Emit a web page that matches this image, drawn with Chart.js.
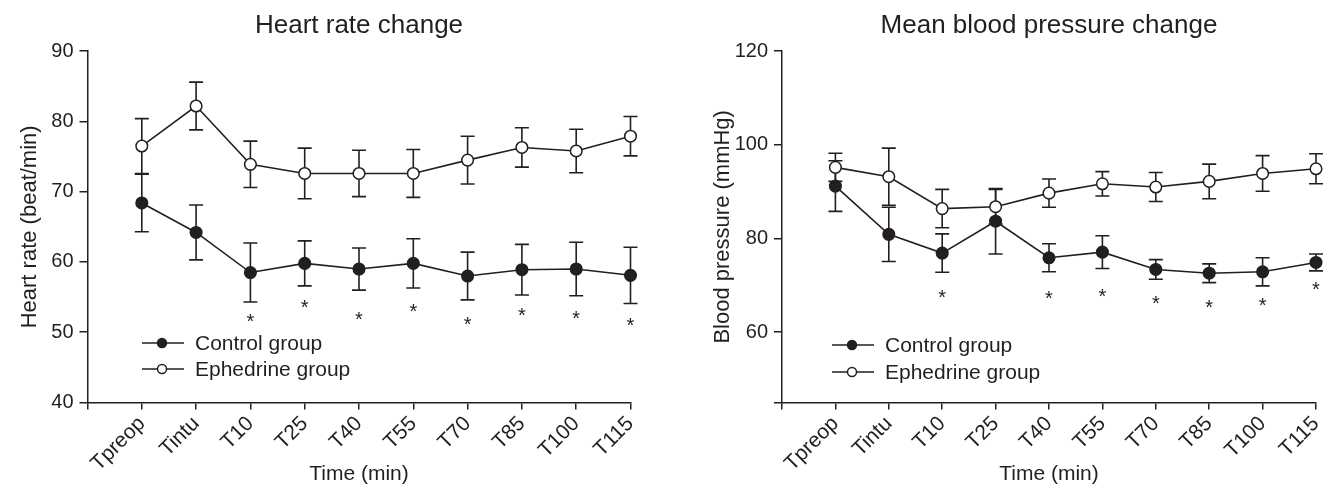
<!DOCTYPE html>
<html>
<head>
<meta charset="utf-8">
<script src="https://cdn.jsdelivr.net/npm/chart.js@4.4.0/dist/chart.umd.min.js"></script>
<style>
  body { margin: 0; background: #fff; }
  .wrap { display: flex; width: 1328px; height: 488px; }
  canvas { display: block; }
</style>
</head>
<body>
<div class="wrap">
  <canvas id="hrChart" width="664" height="488"></canvas>
  <canvas id="bpChart" width="664" height="488"></canvas>
</div>
<script>
const timeLabels = ["Tpreop", "Tintu", "T10", "T25", "T40", "T55", "T70", "T85", "T100", "T115"];
const seriesNames = ["Control group", "Ephedrine group"];

// heart rate (beat/min), mean and SD
const hrControl = [68.4, 64.2, 58.5, 59.8, 59.0, 59.8, 58.0, 58.9, 59.0, 58.1];
const hrControlSD = [4.1, 3.9, 4.2, 3.2, 3.0, 3.5, 3.4, 3.6, 3.8, 4.0];
const hrEphedrine = [76.5, 82.2, 73.9, 72.6, 72.6, 72.6, 74.5, 76.3, 75.8, 77.9];
const hrEphedrineSD = [3.9, 3.4, 3.3, 3.6, 3.3, 3.4, 3.4, 2.8, 3.1, 2.8];
const hrStars = [null, null, 52.1, 54.2, 52.5, 53.6, 51.7, 53.0, 52.6, 51.6];
const hrTicks = [40, 50, 60, 70, 80, 90];

// mean blood pressure (mmHg), mean and SD
const bpControl = [91.2, 80.9, 76.9, 83.7, 75.9, 77.1, 73.4, 72.6, 72.9, 74.9];
const bpControlSD = [5.4, 5.8, 4.1, 7.0, 3.0, 3.5, 2.1, 2.0, 3.0, 1.8];
const bpEphedrine = [95.2, 93.2, 86.4, 86.8, 89.7, 91.7, 91.0, 92.2, 93.9, 94.9];
const bpEphedrineSD = [3.0, 6.1, 4.1, 3.7, 3.0, 2.6, 3.1, 3.7, 3.8, 3.2];
const bpStars = [null, null, 68.3, null, 68.1, 68.6, 67.2, 66.2, 66.7, 70.0];
const bpTicks = [45, 60, 80, 100, 120];

const ink = "#231f20";
const fontFamily = '"Liberation Sans", Arial, Helvetica, sans-serif';

// error bars under the markers, asterisks and the legend on top
const extrasPlugin = {
  id: "extras",
  beforeDatasetsDraw(chart) {
    const ctx = chart.ctx;
    const xs = chart.scales.x, ys = chart.scales.y;
    ctx.save();
    ctx.strokeStyle = ink;
    ctx.lineWidth = 1.6;
    chart.data.datasets.forEach(ds => {
      ds.data.forEach((p, i) => {
        const sd = ds.sd[i];
        const px = xs.getPixelForValue(p.x);
        const top = ys.getPixelForValue(p.y + sd);
        const bot = ys.getPixelForValue(p.y - sd);
        ctx.beginPath();
        ctx.moveTo(px, top); ctx.lineTo(px, bot);
        ctx.moveTo(px - 7, top); ctx.lineTo(px + 7, top);
        ctx.moveTo(px - 7, bot); ctx.lineTo(px + 7, bot);
        ctx.stroke();
      });
    });
    ctx.restore();
  },
  afterDatasetsDraw(chart, args, opts) {
    const ctx = chart.ctx;
    const xs = chart.scales.x, ys = chart.scales.y;
    ctx.save();
    ctx.fillStyle = ink;
    ctx.font = "20px " + fontFamily;
    ctx.textAlign = "center";
    ctx.textBaseline = "alphabetic";
    opts.stars.forEach((v, i) => {
      if (v === null) return;
      ctx.fillText("*", xs.getPixelForValue(i), ys.getPixelForValue(v) + 11);
    });

    // legend
    const lg = opts.legend;
    ctx.font = "21px " + fontFamily;
    ctx.textAlign = "left";
    ctx.textBaseline = "middle";
    ctx.strokeStyle = ink;
    ctx.lineWidth = 1.5;
    seriesNames.forEach((name, k) => {
      const y = lg.y[k];
      ctx.beginPath();
      ctx.moveTo(lg.x, y);
      ctx.lineTo(lg.x + 42, y);
      ctx.stroke();
      ctx.beginPath();
      ctx.arc(lg.x + 20, y, 4.5, 0, Math.PI * 2);
      ctx.fillStyle = k === 0 ? ink : "#fff";
      ctx.fill();
      ctx.stroke();
      ctx.fillStyle = ink;
      ctx.fillText(name, lg.x + 53, y + 1);
    });
    ctx.restore();
  }
};

function toPoints(values) {
  return values.map((v, i) => ({ x: i, y: v }));
}

function makeChart(id, o) {
  const axisFont = { family: fontFamily, size: 21 };
  return new Chart(document.getElementById(id), {
    type: "line",
    data: {
      datasets: [
        {
          label: seriesNames[0],
          data: toPoints(o.control),
          sd: o.controlSD,
          clip: false,
          borderColor: ink,
          borderWidth: 1.6,
          pointRadius: 5.8,
          pointBorderWidth: 1.5,
          pointBackgroundColor: ink,
          pointBorderColor: ink
        },
        {
          label: seriesNames[1],
          data: toPoints(o.ephedrine),
          sd: o.ephedrineSD,
          clip: false,
          borderColor: ink,
          borderWidth: 1.6,
          pointRadius: 5.8,
          pointBorderWidth: 1.5,
          pointBackgroundColor: "#fff",
          pointBorderColor: ink
        }
      ]
    },
    options: {
      responsive: false,
      animation: false,
      layout: { padding: { left: 0, right: o.padRight, top: 0, bottom: 0 } },
      plugins: {
        legend: { display: false },
        tooltip: { enabled: false },
        title: {
          display: true,
          text: o.title,
          color: ink,
          fullSize: false,
          font: { family: fontFamily, size: 26, weight: "normal" },
          padding: { top: 10, bottom: 10 }
        },
        extras: { stars: o.stars, legend: o.legend }
      },
      scales: {
        x: {
          type: "linear",
          min: -1,
          max: timeLabels.length - 1,
          afterBuildTicks: s => {
            s.ticks = [];
            for (let i = -1; i < timeLabels.length; i++) s.ticks.push({ value: i });
          },
          afterFit: s => {
            s.height = 85.5;
            s.paddingLeft = 0;
            s.paddingRight = 0;
          },
          ticks: {
            color: ink,
            font: axisFont,
            autoSkip: false,
            minRotation: 45,
            maxRotation: 45,
            padding: 2,
            callback: v => timeLabels[v] || ""
          },
          grid: { drawOnChartArea: false, drawTicks: true, tickLength: 7, color: ink, lineWidth: 1.5 },
          border: { display: true, color: ink, width: 1.5 },
          title: {
            display: true,
            text: "Time (min)",
            color: ink,
            font: axisFont,
            padding: { top: 0, bottom: 1 }
          }
        },
        y: {
          min: o.yMin,
          max: o.yMax,
          afterBuildTicks: s => { s.ticks = o.yTicks.map(v => ({ value: v })); },
          afterFit: s => { s.width = o.yWidth; },
          ticks: {
            color: ink,
            font: { family: fontFamily, size: 20 },
            padding: 6,
            callback: v => (v % 10 === 0 ? v : "")
          },
          grid: { drawOnChartArea: false, drawTicks: true, tickLength: 8, color: ink, lineWidth: 1.5 },
          border: { display: true, color: ink, width: 1.5 },
          title: {
            display: true,
            text: o.yTitle,
            color: ink,
            font: { family: fontFamily, size: 22 },
            padding: { top: o.yTitlePad, bottom: 0 }
          }
        }
      }
    },
    plugins: [extrasPlugin]
  });
}

makeChart("hrChart", {
  title: "Heart rate change",
  yTitle: "Heart rate (beat/min)",
  control: hrControl, controlSD: hrControlSD,
  ephedrine: hrEphedrine, ephedrineSD: hrEphedrineSD,
  stars: hrStars,
  yMin: 40, yMax: 90, yTicks: hrTicks,
  yWidth: 87.5, yTitlePad: 17, padRight: 33.5,
  legend: { x: 142, y: [343, 369] }
});

makeChart("bpChart", {
  title: "Mean blood pressure change",
  yTitle: "Blood pressure (mmHg)",
  control: bpControl, controlSD: bpControlSD,
  ephedrine: bpEphedrine, ephedrineSD: bpEphedrineSD,
  stars: bpStars,
  yMin: 45, yMax: 120, yTicks: bpTicks,
  yWidth: 118, yTitlePad: 46, padRight: 12,
  legend: { x: 168, y: [345, 372] }
});
</script>
</body>
</html>
